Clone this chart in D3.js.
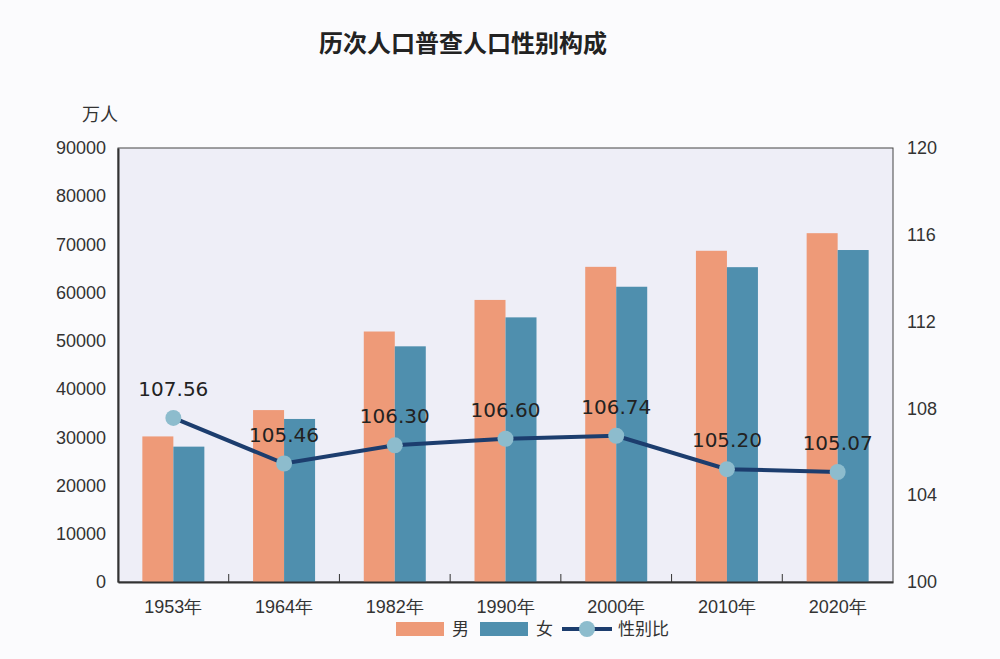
<!DOCTYPE html><html><head><meta charset="utf-8"><script src="https://cdn.jsdelivr.net/npm/d3@7"></script>
<style>body{margin:0;background:#fbfbfd;}svg{font-family:"DejaVu Sans","Noto Sans CJK SC",sans-serif;}</style></head><body><svg width="1000" height="659"></svg><script>
const years=["1953年","1964年","1982年","1990年","2000年","2010年","2020年"];
const male=[30190,35650,51944,58495,65355,68685,72334];
const female=[28070,33810,48874,54878,61228,65287,68844];
const ratio=[107.56,105.46,106.30,106.60,106.74,105.20,105.07];
const leftTicks=[0,10000,20000,30000,40000,50000,60000,70000,80000,90000];
const rightTicks=[100,104,108,112,116,120];
const svg=d3.select("svg");
const L=118,R=893,T=148,B=582;
const x=d3.scaleBand().domain(years).range([L,R]);
const y=d3.scaleLinear().domain([0,90000]).range([B,T]);
const y2=d3.scaleLinear().domain([100,120]).range([B,T]);
svg.append("rect").attr("x",L).attr("y",T).attr("width",R-L).attr("height",B-T).attr("fill","#eeeef7").attr("stroke","#444").attr("stroke-width",1);
svg.append("text").attr("x",463).attr("y",52).attr("text-anchor","middle").attr("font-size",24).attr("font-weight","bold").attr("fill","#222").attr("font-family","Noto Sans CJK SC").text("历次人口普查人口性别构成");
svg.append("text").attr("x",100).attr("y",121).attr("text-anchor","middle").attr("font-size",18).attr("fill","#333").attr("font-family","Noto Sans CJK SC").text("万人");
const bw=31;
svg.selectAll(".m").data(years).join("rect").attr("x",d=>x(d)+x.bandwidth()/2-bw).attr("y",(d,i)=>y(male[i])).attr("width",bw).attr("height",(d,i)=>B-y(male[i])).attr("fill","#ee9a78");
svg.selectAll(".f").data(years).join("rect").attr("x",d=>x(d)+x.bandwidth()/2).attr("y",(d,i)=>y(female[i])).attr("width",bw).attr("height",(d,i)=>B-y(female[i])).attr("fill","#4f8fae");
const ax=svg.append("g").attr("transform",`translate(0,${B})`).call(d3.axisBottom(x).tickSize(0).tickPadding(18));
ax.select(".domain").attr("stroke","#333").attr("stroke-width",2);
ax.selectAll("text").attr("font-size",18).attr("fill","#333");
years.slice(1).forEach(d=>svg.append("line").attr("x1",x(d)).attr("x2",x(d)).attr("y1",B).attr("y2",B-8).attr("stroke","#333"));
const ay=svg.append("g").attr("transform",`translate(${L},0)`).call(d3.axisLeft(y).tickValues(leftTicks).tickSize(0).tickPadding(12).tickFormat(d3.format("d")));
ay.select(".domain").attr("stroke","#333").attr("stroke-width",2);
ay.selectAll("text").attr("font-size",18).attr("fill","#333");
const ay2=svg.append("g").attr("transform",`translate(${R},0)`).call(d3.axisRight(y2).tickValues(rightTicks).tickSize(0).tickPadding(14));
ay2.select(".domain").remove();
ay2.selectAll("text").attr("font-size",18).attr("fill","#333");
const cx=d=>x(d)+x.bandwidth()/2;
svg.append("path").datum(years).attr("d",d3.line().x(cx).y((d,i)=>y2(ratio[i]))).attr("fill","none").attr("stroke","#1c3d6e").attr("stroke-width",4);
svg.selectAll(".pt").data(years).join("circle").attr("cx",cx).attr("cy",(d,i)=>y2(ratio[i])).attr("r",8).attr("fill","#8dbccd");
svg.selectAll(".lb").data(years).join("text").attr("x",cx).attr("y",(d,i)=>y2(ratio[i])-22).attr("text-anchor","middle").attr("font-size",20).attr("fill","#222").text((d,i)=>ratio[i].toFixed(2));
const lg=svg.append("g").attr("font-family","Noto Sans CJK SC").attr("font-size",17).attr("fill","#333");
lg.append("rect").attr("x",396).attr("y",622).attr("width",48).attr("height",14).attr("fill","#ee9a78");
lg.append("text").attr("x",452).attr("y",635).text("男");
lg.append("rect").attr("x",480).attr("y",622).attr("width",48).attr("height",14).attr("fill","#4f8fae");
lg.append("text").attr("x",536).attr("y",635).text("女");
lg.append("line").attr("x1",562).attr("x2",612).attr("y1",629).attr("y2",629).attr("stroke","#1c3d6e").attr("stroke-width",4);
lg.append("circle").attr("cx",587).attr("cy",629).attr("r",8).attr("fill","#8dbccd");
lg.append("text").attr("x",618).attr("y",635).text("性别比");
</script></body></html>
